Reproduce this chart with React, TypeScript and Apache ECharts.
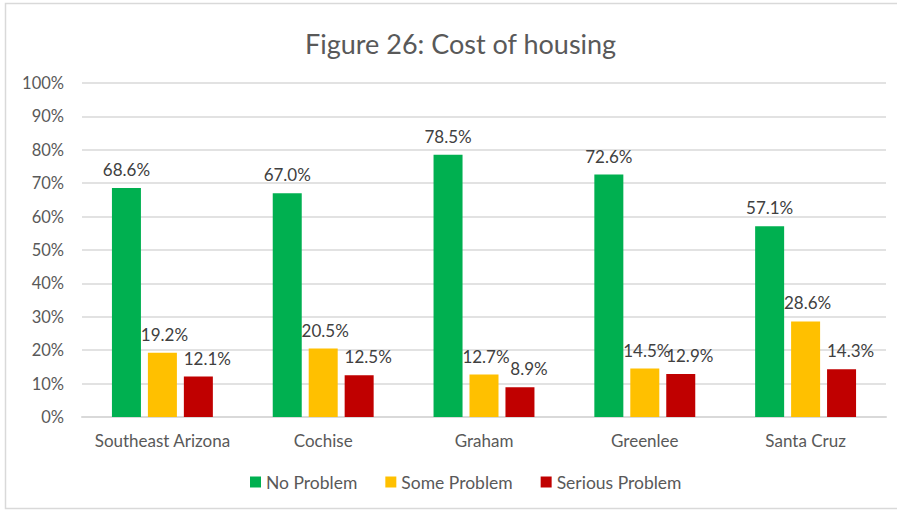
import React, { useEffect, useRef } from "react";
import * as echarts from "echarts";

const categories = ["Southeast Arizona", "Cochise", "Graham", "Greenlee", "Santa Cruz"];
const noProblem = [68.6, 67.0, 78.5, 72.6, 57.1];
const someProblem = [19.2, 20.5, 12.7, 14.5, 28.6];
const seriousProblem = [12.1, 12.5, 8.9, 12.9, 14.3];
const seriesNames = ["No Problem", "Some Problem", "Serious Problem"];
const colors = ["#00B050", "#FFC000", "#C00000"];

const FONT = "Lato, 'Noto Sans', sans-serif";

export default function App() {
  const ref = useRef<HTMLDivElement>(null);
  useEffect(() => {
    const chart = echarts.init(ref.current!, null, { renderer: "svg" });
    const data = [noProblem, someProblem, seriousProblem];
    const labelOffsets = [[0, 0], [2, 0], [9, 0]];
    chart.setOption({
      animation: false,
      backgroundColor: "#ffffff",
      textStyle: { fontFamily: FONT },
      title: {
        text: "Figure 26: Cost of housing",
        left: 300,
        top: 25,
        textStyle: { fontFamily: FONT, fontSize: 27, fontWeight: "normal", color: "#595959" },
      },
      graphic: [
        {
          type: "rect",
          shape: { x: 5.5, y: 3.5, width: 900, height: 505 },
          style: { fill: "none", stroke: "#d9d9d9", lineWidth: 1.5 },
          silent: true,
        },
      ],
      legend: {
        bottom: 16,
        left: 245,
        itemWidth: 11,
        itemHeight: 11,
        itemGap: 28,
        icon: "rect",
        textStyle: { fontFamily: FONT, fontSize: 17.5, color: "#595959" },
        data: seriesNames,
      },
      grid: { left: 82, right: 11, top: 83, bottom: 95 },
      xAxis: {
        type: "category",
        data: categories,
        axisLine: { lineStyle: { color: "#d9d9d9", width: 2 } },
        axisTick: { show: false },
        axisLabel: { fontFamily: FONT, fontSize: 17, color: "#595959", margin: 15, interval: 0 },
      },
      yAxis: {
        type: "value",
        min: 0,
        max: 100,
        interval: 10,
        axisLine: { show: false },
        axisTick: { show: false },
        axisLabel: { fontFamily: FONT, fontSize: 16.5, color: "#595959", formatter: "{value}%", margin: 18 },
        splitLine: { lineStyle: { color: "#d9d9d9", width: 1.5 } },
      },
      series: data.map((d, i) => ({
        name: seriesNames[i],
        type: "bar",
        data: d,
        barWidth: 29,
        barGap: "24%",
        itemStyle: { color: colors[i] },
        label: {
          show: true,
          position: "top",
          distance: 10,
          offset: labelOffsets[i],
          formatter: (p: any) => p.value.toFixed(1) + "%",
          fontFamily: FONT,
          fontSize: 17,
          color: "#404040",
        },
      })),
    });
    return () => chart.dispose();
  }, []);
  return (
    <div
      ref={ref}
      style={{ position: "fixed", left: 0, top: 0, width: 897, height: 512 }}
    />
  );
}
